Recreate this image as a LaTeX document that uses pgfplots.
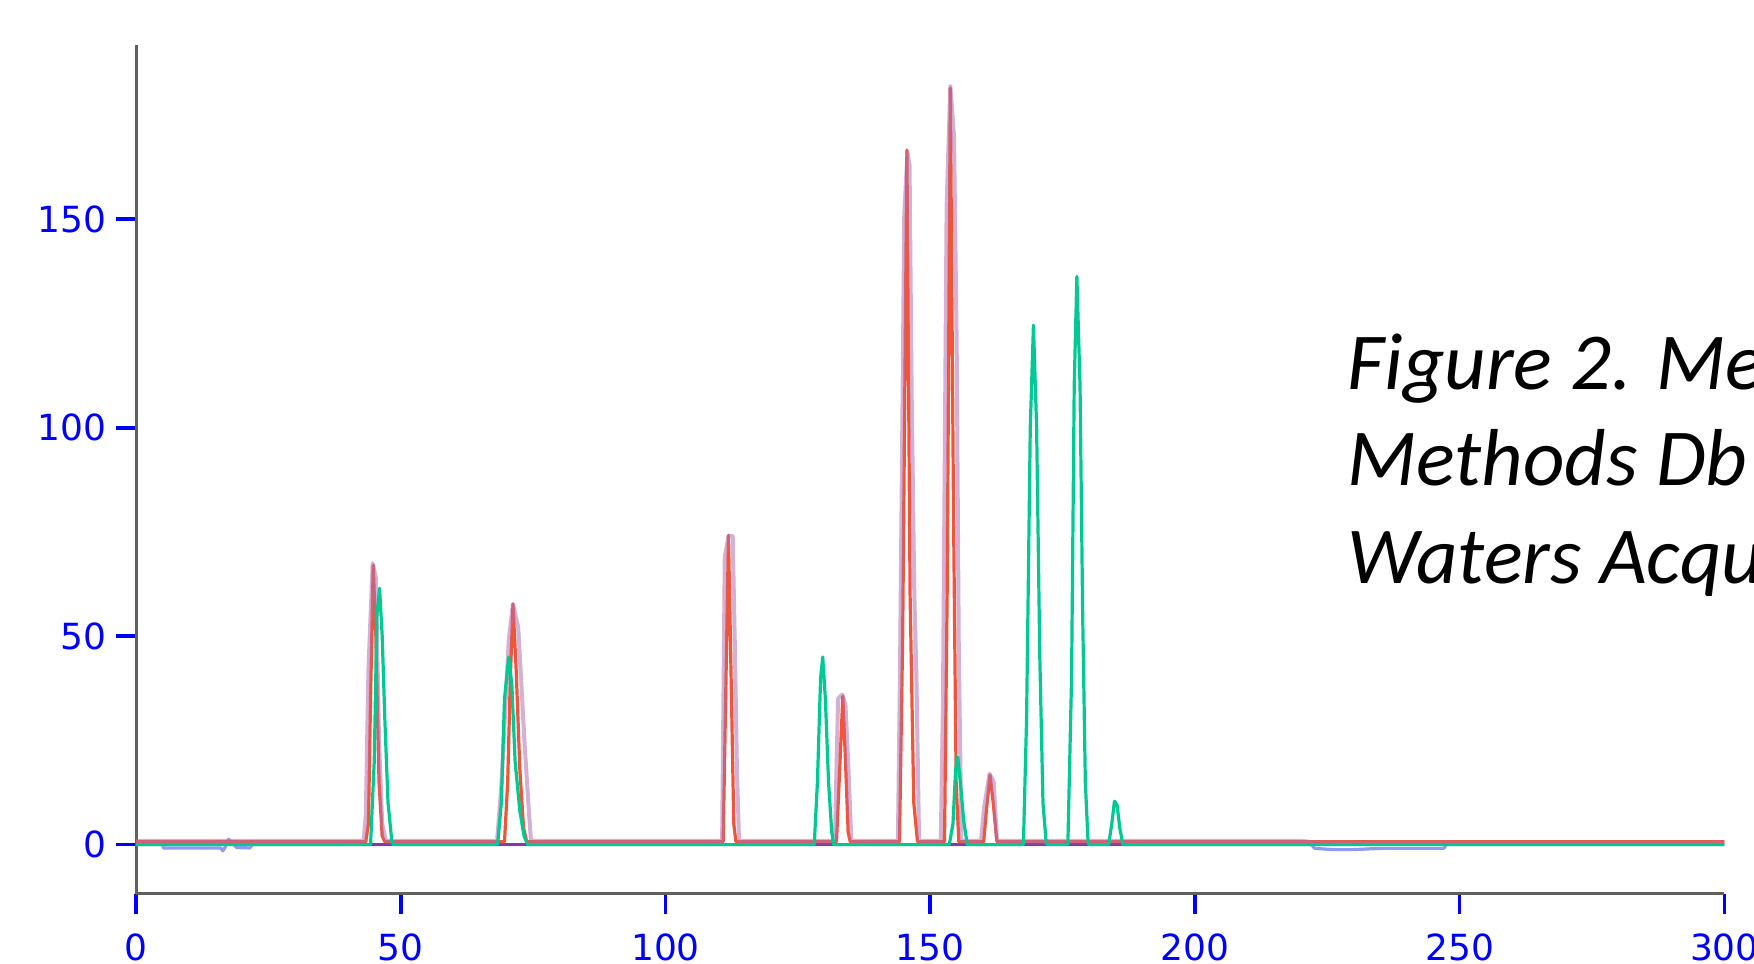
\documentclass[border=0pt]{standalone}
\usepackage{fontspec}
\usepackage{pgfplots}
\pgfplotsset{compat=1.18}
\newfontfamily\tickfont{DejaVu Sans}
\newfontfamily\capfont{Carlito}
\definecolor{axgray}{HTML}{606060}
\definecolor{tred}{HTML}{F05538}
\definecolor{tmauve}{HTML}{B070B0}
\definecolor{tgreen}{HTML}{00C994}
\definecolor{tcrim}{HTML}{DC143C}
\definecolor{tblue}{HTML}{4455EE}
\begin{document}
\begin{tikzpicture}
\useasboundingbox (-34pt,-17.3pt) rectangle (404.5pt,223.45pt);
\clip (-34pt,-17.3pt) rectangle (404.5pt,223.45pt);
\begin{axis}[
    at={(0,0)}, anchor=south west,
    scale only axis,
    width=397.1pt, height=212.3pt,
    xmin=0, xmax=300,
    ymin=-11.8, ymax=191.9,
    axis x line=bottom, axis y line=left,
    axis line style={draw=axgray, line width=0.75pt, -},
    xtick={0,50,...,300}, ytick={0,50,100,150},
    tick align=outside, major tick length=5pt,
    every tick/.style={draw=blue, line width=0.9pt},
    ticklabel style={font=\tickfont\fontsize{9}{11}\selectfont, text=blue},
    xticklabel style={yshift=-1.4pt},
    yticklabel style={xshift=1.2pt},
    /pgf/number format/assume math mode=true,
    every axis plot/.append style={line join=round, line width=0.8pt},
]
% baseline traces
\addplot[tcrim] coordinates {(0,0)(300,0)};
\addplot[tblue, opacity=0.6] coordinates {
    (0,0)(5,0)(5.2,-0.8)(16.0,-0.8)(16.4,-1.5)(16.9,-0.5)(17.5,1.3)(18.2,0.3)
    (19,-0.7)(21.5,-0.8)(22,0)(222,0)(222.6,-0.9)(226,-1.2)(230,-1.2)(235,-0.9)
    (247,-0.9)(247.5,0)(300,0)
};
% red trace
\addplot[tred] coordinates {
    (0,0.7)(43.4,0.7)(43.9,5)(44.3,35)(44.8,67)(45.3,50)(45.9,15)(46.5,2)(47.0,0.7)
    (69.6,0.7)(70.2,15)(70.7,40)(71.2,57.7)(71.8,42)(72.5,18)(73.2,4)(73.8,0.7)
    (110.9,0.7)(111.3,30)(111.9,74.2)(112.4,40)(112.9,5)(113.3,0.7)
    (132.3,0.7)(132.8,15)(133.5,35.6)(134.0,20)(134.5,3)(134.9,0.7)
    (144.2,0.7)(144.8,50)(145.6,166.6)(146.2,60)(146.9,10)(147.6,0.7)
    (152.7,0.7)(153.2,60)(153.8,181.5)(154.4,80)(154.9,15)(155.4,0.7)
    (160.1,0.7)(160.6,8)(161.3,16.7)(161.9,10)(162.6,0.7)
    (300,0.7)
};
% mauve trace
\addplot[tmauve, opacity=0.55, line width=1pt] coordinates {
    (0,0.9)(43.0,0.9)(43.4,7)(43.9,42)(44.7,67.5)(45.3,64)(45.9,25)(46.5,5)(47.2,0.9)
    (68.2,0.9)(69.0,14)(70.4,49)(71.2,57.7)(72.2,52)(72.8,38)(73.4,24)(74.1,10)(74.6,0.9)
    (110.7,0.9)(111.2,69)(111.9,74)(112.7,74)(113.1,48)(113.5,18)(113.9,0.9)
    (132.0,0.9)(132.6,35)(133.4,36)(134.0,33.5)(134.6,17)(135.1,0.9)
    (143.9,0.9)(144.3,42)(145.1,151)(145.7,166)(146.1,163)(146.5,108)(147.0,60)(147.4,40)(147.9,0.9)
    (152.0,0.9)(152.4,33)(153.1,153)(153.8,182)(154.5,170)(155.0,120)(155.4,47)(155.9,0.9)
    (159.6,0.9)(160.2,9)(161.2,17)(162.0,15)(162.6,0.9)
    (220,0.9)(223,0.5)(300,0.5)
};
% green trace
\addplot[tgreen] coordinates {
    (0,0)(44.3,0)(45.0,20)(45.5,55)(46.0,61.5)(46.5,50)(47.0,30)(47.6,10)(48.3,1)(48.6,0)
    (68.3,0)(69.0,10)(69.6,35)(70.4,45)(71.0,38)(71.6,20)(72.5,8)(73.3,2)(74.0,0)
    (128.1,0)(128.7,15)(129.3,40)(129.7,45)(130.2,35)(130.8,15)(131.4,3)(131.8,0)
    (153.6,0)(154.3,5)(154.8,18)(155.2,21)(155.7,15)(156.3,6)(157.0,0)
    (167.6,0)(168.2,30)(168.9,100)(169.5,124.6)(170.1,100)(170.7,45)(171.3,10)(171.9,0.5)(172.2,0)
    (176.0,0)(176.7,40)(177.2,110)(177.7,136.3)(178.3,110)(178.8,55)(179.3,15)(179.8,1)(180.0,0)
    (183.7,0)(184.3,5)(184.8,10.4)(185.3,9.5)(185.8,4)(186.4,0)
    (300,0)
};
\end{axis}
\begin{scope}[every node/.style={anchor=base west, inner sep=0pt,
    font=\capfont\itshape\fontsize{20.2}{24.25}\selectfont}]
\node at (302.7pt,126.1pt) {Figure 2. Methods};
\node at (302.7pt,101.95pt) {Methods Db};
\node at (302.7pt,77.6pt) {Waters Acquity};
\end{scope}
\end{tikzpicture}
\end{document}
